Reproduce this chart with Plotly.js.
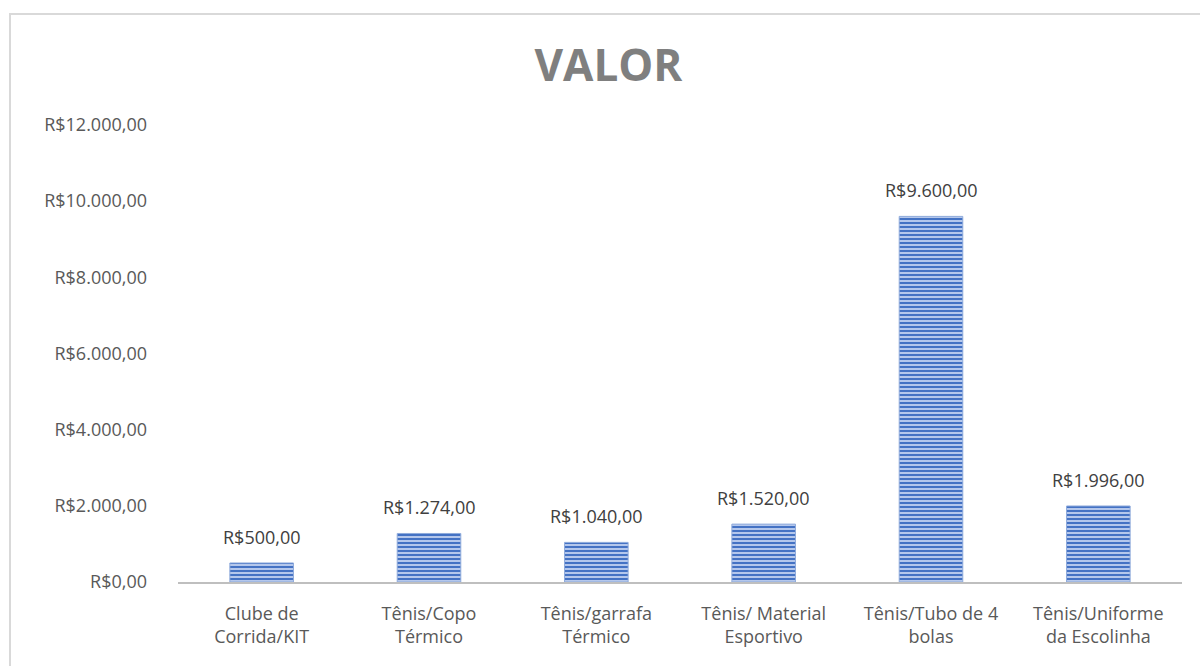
<!DOCTYPE html>
<html><head><meta charset="utf-8">
<script src="https://cdn.plot.ly/plotly-3.0.1.min.js"></script>
<style>
html,body{margin:0;padding:0;background:#fff;}
#wrap{position:absolute;left:0;top:0;width:1200px;height:666px;overflow:hidden;}
#frame{position:absolute;left:9px;top:13px;width:1200px;height:700px;border:2px solid #d9d9d9;box-sizing:border-box;}
#chart{position:absolute;left:0;top:0;width:1200px;height:666px;}
</style></head>
<body>
<div id="wrap"><div id="frame"></div><div id="chart"></div></div>
<script>
const categories = ["Clube de<br>Corrida/KIT","Tênis/Copo<br>Térmico","Tênis/garrafa<br>Térmico","Tênis/ Material<br>Esportivo","Tênis/Tubo de 4<br>bolas","Tênis/Uniforme<br>da Escolinha"];
const values = [500, 1274, 1040, 1520, 9600, 1996];
const tickValues = [0, 2000, 4000, 6000, 8000, 10000, 12000];
const tickLabels = ["R$0,00","R$2.000,00","R$4.000,00","R$6.000,00","R$8.000,00","R$10.000,00","R$12.000,00"];
const barLabels = ["R$500,00","R$1.274,00","R$1.040,00","R$1.520,00","R$9.600,00","R$1.996,00"];

const FONT = "Open Sans, sans-serif";
const trace = {
  type: "bar", x: categories, y: values,
  marker: {
    color: "#9fb7e6",
    line: {color: "#8eaadb", width: 1},
    pattern: {shape: "-", fgcolor: "#4472c4", bgcolor: "#b4c7ec", size: 4, solidity: 0.5}
  },
  hoverinfo: "none"
};
const annotations = categories.map((c, i) => ({
  x: c, y: values[i], xref: "x", yref: "y", text: barLabels[i],
  showarrow: false, yanchor: "bottom", yshift: 12,
  font: {family: FONT, size: 18, color: "#404040"}
}));
const layout = {
  width: 1200, height: 666,
  paper_bgcolor: "rgba(0,0,0,0)", plot_bgcolor: "rgba(0,0,0,0)",
  margin: {l: 178, r: 18, t: 125, b: 84},
  bargap: 0.62,
  showlegend: false,
  font: {family: FONT, color: "#595959", size: 18},
  title: {text: "<b>VALOR</b>", x: 0.507, xanchor: "center", y: 1 - 66/666, yref: "container", yanchor: "middle",
          font: {family: FONT, size: 44, color: "#7f7f7f"}},
  annotations: annotations,
  xaxis: {showgrid: false, zeroline: false, showline: true, linecolor: "#bfbfbf", linewidth: 2,
          ticks: "", ticklabelstandoff: 14, tickfont: {family: FONT, size: 18, color: "#595959"}},
  yaxis: {range: [0, 12000], tickvals: tickValues, ticktext: tickLabels, showgrid: false, zeroline: false,
          showline: false, ticks: "", ticklabelstandoff: 30, tickfont: {family: FONT, size: 18, color: "#595959"}}
};
Plotly.newPlot("chart", [trace], layout, {displayModeBar: false, staticPlot: true});
</script>
</body></html>
